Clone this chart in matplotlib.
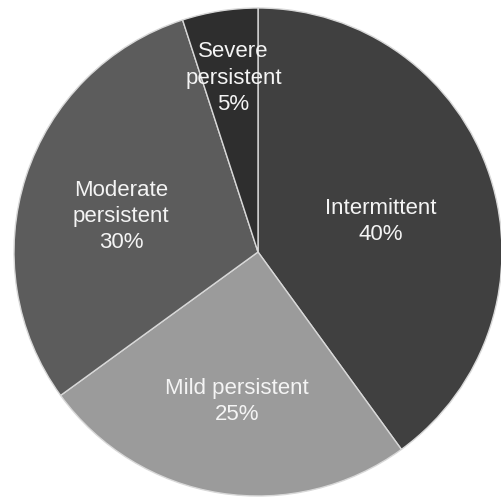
import numpy as np
import matplotlib
matplotlib.use("Agg")
import matplotlib.pyplot as plt

categories = ["Intermittent", "Mild persistent", "Moderate persistent", "Severe persistent"]
shares = [40, 25, 30, 5]
label_lines = ["Intermittent", "Mild persistent", "Moderate\npersistent", "Severe\npersistent"]
colors = ["#404040", "#9b9b9b", "#5c5c5c", "#2e2e2e"]

W, H = 501, 497
cx, cy, R = 258, 252, 244

fig = plt.figure(figsize=(W / 100, H / 100), dpi=100)
ax = fig.add_axes([0, 0, 1, 1])

wedges, _ = ax.pie(shares, colors=colors, startangle=90, counterclock=False,
                   radius=1.0, center=(0, 0), frame=True,
                   wedgeprops=dict(edgecolor="#d8d8d8", linewidth=1.0))
ax.set_xlim(-cx / R, (W - cx) / R)
ax.set_ylim(-(H - cy) / R, cy / R)
ax.set_aspect("auto")
ax.axis("off")

# radial distance and angular nudge for each label
label_dist = [0.52, 0.62, 0.58, 0.72]
label_nudge = [-4, 1.0, 3.5, -1]
for w, txt, share, d, nd in zip(wedges, label_lines, shares, label_dist, label_nudge):
    mid = np.deg2rad((w.theta1 + w.theta2) / 2 + nd)
    ax.text(d * np.cos(mid), d * np.sin(mid), f"{txt}\n{share}%",
            ha="center", va="center", color="#f4f4f4", fontsize=16,
            family="Liberation Sans", linespacing=1.33)

fig.savefig("out.png", dpi=100, facecolor="white")
